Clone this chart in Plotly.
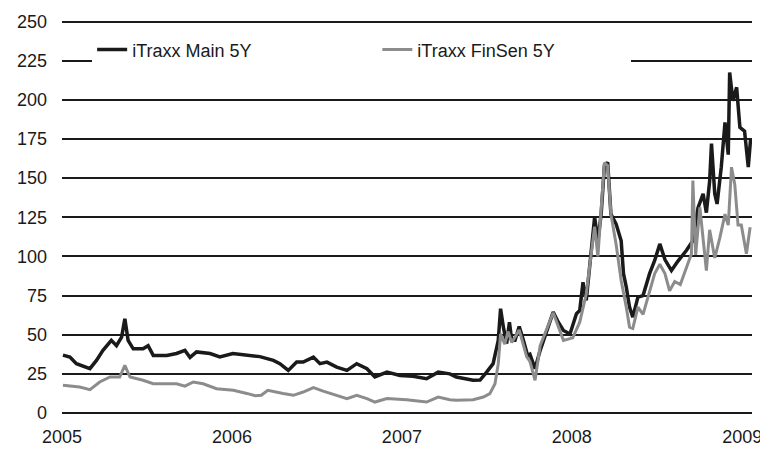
import plotly.graph_objects as go

main_dates = [
    "2005-01-03", "2005-01-18", "2005-02-01", "2005-03-02", "2005-03-16", "2005-03-30",
    "2005-04-17", "2005-04-28", "2005-05-09", "2005-05-16", "2005-05-23", "2005-06-03",
    "2005-06-24", "2005-07-05", "2005-07-16", "2005-08-14", "2005-09-04", "2005-09-22",
    "2005-10-03", "2005-10-17", "2005-11-15", "2005-12-06", "2006-01-03", "2006-02-02",
    "2006-02-23", "2006-03-02", "2006-03-31", "2006-04-14", "2006-05-02", "2006-05-20",
    "2006-06-03", "2006-06-25", "2006-07-09", "2006-07-24", "2006-08-14", "2006-09-05",
    "2006-09-26", "2006-10-18", "2006-11-04", "2006-11-30", "2006-12-28", "2007-01-25",
    "2007-02-23", "2007-03-20", "2007-04-14", "2007-04-28", "2007-06-03", "2007-06-18",
    "2007-07-02", "2007-07-16", "2007-07-27", "2007-08-01", "2007-08-07", "2007-08-14",
    "2007-08-20", "2007-08-25", "2007-09-01", "2007-09-10", "2007-09-19", "2007-09-28",
    "2007-10-03", "2007-10-14", "2007-10-25", "2007-11-08", "2007-11-22", "2007-12-03",
    "2007-12-14", "2007-12-28", "2008-01-11", "2008-01-18", "2008-01-25", "2008-02-01",
    "2008-02-12", "2008-02-19", "2008-02-26", "2008-03-04", "2008-03-11", "2008-03-18",
    "2008-03-25", "2008-04-05", "2008-04-16", "2008-04-21", "2008-04-27", "2008-05-04",
    "2008-05-11", "2008-05-22", "2008-06-02", "2008-06-16", "2008-06-27", "2008-07-08",
    "2008-07-19", "2008-08-02", "2008-08-16", "2008-09-03", "2008-09-17", "2008-09-28",
    "2008-10-09", "2008-10-16", "2008-10-23", "2008-10-27", "2008-11-03", "2008-11-08",
    "2008-11-17", "2008-11-25", "2008-12-02", "2008-12-05", "2008-12-12", "2008-12-20",
    "2008-12-27", "2009-01-06", "2009-01-14", "2009-01-19",
]
main_values = [
    37, 35.7, 31.5, 28.3, 33.6, 40,
    46.4, 43, 48.5, 60.2, 46.4, 41,
    41, 43, 36.8, 36.8, 38, 40,
    35.5, 39, 38, 35.8, 38, 36.8,
    35.8, 36, 33.6, 31.5, 27.2, 32.5,
    32.5, 35.7, 31.5, 32.5, 29.3, 27.2,
    31.5, 28.3, 23, 26.1, 24, 23.5,
    21.9, 26.1, 25, 23, 20.9, 21,
    26.1, 31.5, 46.4, 66.6, 54.8, 44.3,
    58, 46.4, 46.4, 55.3, 46.4, 36.8,
    37.5, 28.3, 40, 52.7, 64.4, 58,
    52.7, 50.5, 63.4, 65.5, 83.5, 71.9,
    101.7, 125, 110, 127, 158, 160,
    127, 120.8, 110, 89, 80.4, 67.6,
    61.2, 74, 75, 89, 97.4, 108,
    98, 91, 97, 103.8, 110, 131,
    140, 128, 148, 172, 140, 133.5,
    157, 185.6, 165, 217.5, 199.4, 208,
    182.4, 180, 157, 175,
]

finsen_dates = [
    "2005-01-03", "2005-02-08", "2005-03-02", "2005-03-23", "2005-04-14", "2005-05-05",
    "2005-05-16", "2005-05-27", "2005-06-24", "2005-07-16", "2005-09-04", "2005-09-22",
    "2005-10-10", "2005-10-31", "2005-11-29", "2006-01-04", "2006-02-02", "2006-02-20",
    "2006-03-05", "2006-03-19", "2006-04-21", "2006-05-13", "2006-06-03", "2006-06-25",
    "2006-07-16", "2006-08-14", "2006-09-05", "2006-09-26", "2006-10-18", "2006-11-04",
    "2006-11-30", "2007-01-11", "2007-02-23", "2007-03-20", "2007-04-14", "2007-04-28",
    "2007-06-03", "2007-06-25", "2007-07-09", "2007-07-20", "2007-07-27", "2007-08-01",
    "2007-08-10", "2007-08-17", "2007-08-25", "2007-09-10", "2007-09-26", "2007-10-03",
    "2007-10-14", "2007-10-25", "2007-11-22", "2007-12-14", "2008-01-03", "2008-01-18",
    "2008-02-01", "2008-02-08", "2008-02-19", "2008-02-26", "2008-03-11", "2008-03-18",
    "2008-03-25", "2008-04-05", "2008-04-16", "2008-04-27", "2008-05-04", "2008-05-11",
    "2008-05-22", "2008-06-02", "2008-06-16", "2008-06-27", "2008-07-08", "2008-07-19",
    "2008-07-29", "2008-08-09", "2008-08-21", "2008-09-03", "2008-09-14", "2008-09-17",
    "2008-09-23", "2008-10-02", "2008-10-09", "2008-10-16", "2008-10-23", "2008-11-03",
    "2008-11-14", "2008-11-25", "2008-12-02", "2008-12-09", "2008-12-16", "2008-12-23",
    "2008-12-30", "2009-01-10", "2009-01-18",
]
finsen_values = [
    17.7, 16.6, 14.9, 19.8, 23, 23,
    30.4, 23, 20.9, 18.7, 18.7, 17.2,
    19.8, 18.7, 15.5, 14.5, 12.5, 11,
    11.3, 14.5, 12.4, 11.3, 13.4, 16.2,
    14, 11.3, 9.2, 11.3, 9.2, 7,
    9.2, 8.5, 7, 10.2, 8.5, 8.1,
    8.5, 10.2, 12.4, 18.7, 31.5, 50.6,
    44, 52, 45, 53, 36, 33,
    20.9, 43, 64, 46.4, 48, 58,
    76, 93, 119, 100, 160, 158,
    127, 108, 84.6, 67.6, 54.8, 54,
    67.6, 63, 77, 89, 95, 89,
    78, 84, 82, 93, 101.7, 148.4,
    101, 131.4, 113, 91, 117, 99,
    112, 127, 120, 157, 146, 120,
    120, 101.7, 118.6,
]

series_names = ["iTraxx Main 5Y", "iTraxx FinSen 5Y"]
y_ticks = [0, 25, 50, 75, 100, 125, 150, 175, 200, 225, 250]
x_ticks = ["2005-01-01", "2006-01-01", "2007-01-01", "2008-01-01", "2009-01-01"]

fig = go.Figure()
fig.add_trace(go.Scatter(
    x=main_dates, y=main_values, mode="lines", name=series_names[0],
    line=dict(color="#1a1a1a", width=3.5), legend="legend",
))
fig.add_trace(go.Scatter(
    x=finsen_dates, y=finsen_values, mode="lines", name=series_names[1],
    line=dict(color="#8c8c8c", width=3), legend="legend2",
))

legend_font = dict(size=18, color="#1a1a1a")
fig.update_layout(
    width=760, height=442,
    margin=dict(l=54, r=16, t=12, b=37),
    paper_bgcolor="white", plot_bgcolor="white",
    font=dict(family="Liberation Sans, Arial, sans-serif", color="#1a1a1a", size=18),
    showlegend=True,
    legend=dict(
        orientation="h", x=0.0437, y=0.924, xanchor="left", yanchor="middle",
        bgcolor="white", borderwidth=0, font=legend_font, entrywidth=242,
    ),
    legend2=dict(
        orientation="h", x=0.457, y=0.924, xanchor="left", yanchor="middle",
        bgcolor="white", borderwidth=0, font=legend_font, entrywidth=209,
    ),
)
fig.update_xaxes(
    type="date", range=["2005-01-01", "2009-01-22"], automargin=False,
    tickvals=x_ticks, tickformat="%Y", showgrid=False, zeroline=False,
    showline=False, ticks="",
    tickfont=dict(size=18, color="#1a1a1a"), ticklabelstandoff=11,
)
fig.update_yaxes(
    range=[0, 251], tickvals=y_ticks, automargin=False, showgrid=True,
    gridcolor="#1a1a1a", gridwidth=2,
    zeroline=True, zerolinecolor="#1a1a1a", zerolinewidth=2, showline=False, ticks="",
    tickfont=dict(size=18, color="#1a1a1a"), ticklabelstandoff=14,
)

fig.write_html("out.html")
